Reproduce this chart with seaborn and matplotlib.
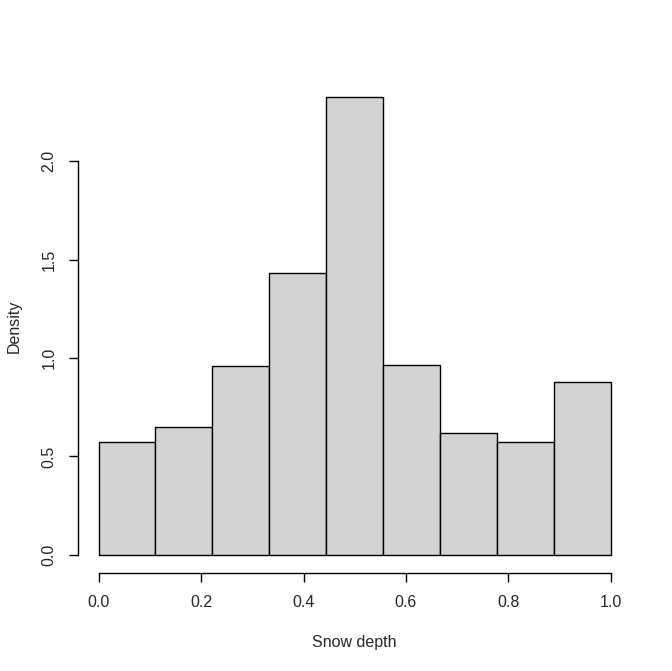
import numpy as np
import matplotlib
matplotlib.use('Agg')
from matplotlib import pyplot as plt
import seaborn as sns

# histogram of snow depth, 9 equal bins on [0, 1]
bin_edges = [0.0, 1/9, 2/9, 3/9, 4/9, 5/9, 6/9, 7/9, 8/9, 1.0]
densities = [0.575, 0.651, 0.962, 1.43, 2.326, 0.967, 0.621, 0.575, 0.880]
x_ticks = [0.0, 0.2, 0.4, 0.6, 0.8, 1.0]
y_ticks = [0.0, 0.5, 1.0, 1.5, 2.0]

sns.set_style('white')
plt.rcParams['font.family'] = ['Liberation Sans', 'DejaVu Sans']

centers = [(a + b) / 2 for a, b in zip(bin_edges[:-1], bin_edges[1:])]

fig = plt.figure(figsize=(6.72, 6.71), dpi=100)
ax = fig.add_axes([78/672, (671-573)/671, (631.5-78)/672, (573-79)/671])
sns.histplot(x=centers, weights=densities, bins=bin_edges, stat='count',
             color='#D3D3D3', edgecolor='black', linewidth=1, alpha=1, ax=ax)

xr = 1.0 * 0.04
ymax = max(densities)
ax.set_xlim(-xr, 1.0 + xr)
ax.set_ylim(-0.04 * ymax, ymax * 1.04)

for s in ['top', 'right']:
    ax.spines[s].set_visible(False)
ax.spines['left'].set_bounds(0, 2.0)
ax.spines['bottom'].set_bounds(0, 1.0)
for s in ['left', 'bottom']:
    ax.spines[s].set_color('black')
    ax.spines[s].set_linewidth(1)

ax.set_xticks(x_ticks)
ax.set_xticklabels(['%.1f' % v for v in x_ticks])
ax.set_yticks(y_ticks)
ax.set_yticklabels(['%.1f' % v for v in y_ticks], rotation=90, va='center')
ax.tick_params(axis='both', direction='out', length=6.5, width=1,
               color='black', labelsize=11.5, pad=9,
               left=True, bottom=True)
ax.set_xlabel('Snow depth', fontsize=11.5, labelpad=18)
ax.set_ylabel('Density', fontsize=11.5, labelpad=14)

plt.savefig('out.png', dpi=100)
